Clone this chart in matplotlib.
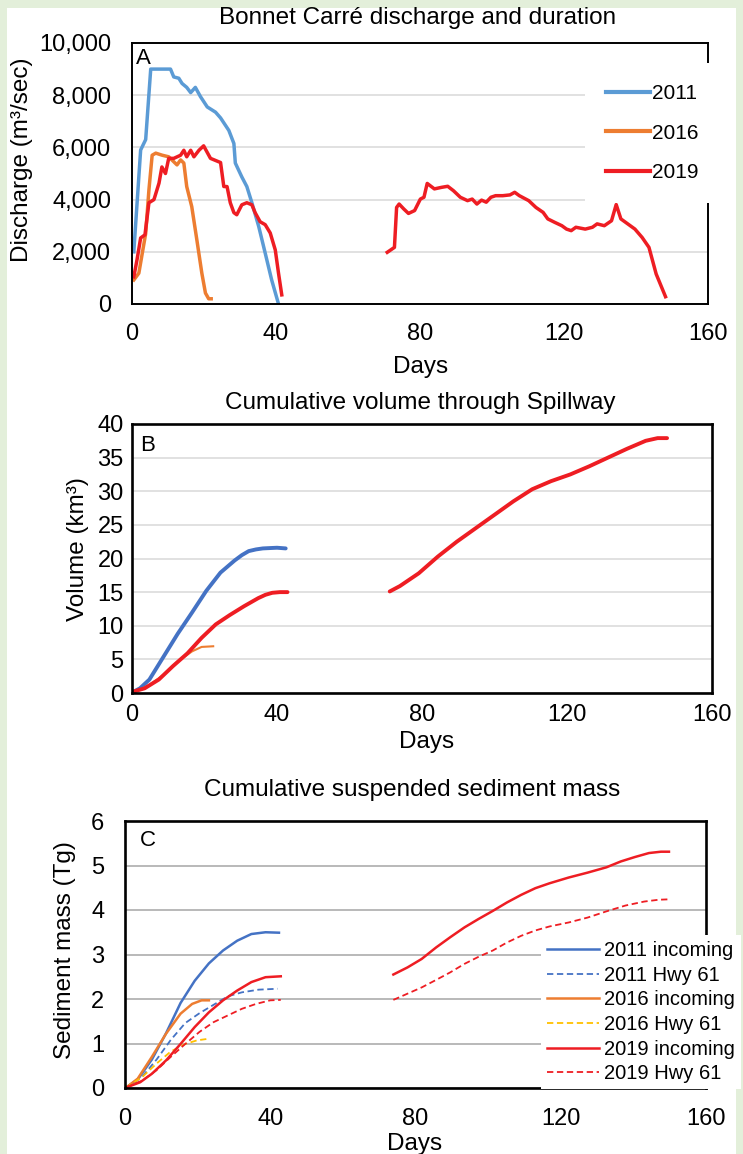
import numpy as np
import matplotlib.pyplot as plt
from matplotlib.patches import Rectangle

# ---- Panel A: discharge (m3/s) ----
a_days_2011 = [0.5, 2.4, 3.8, 5.2, 10.7, 11.6, 13, 13.9, 15.2, 16.3, 17.6, 19, 20.9, 23.2,
               24.6, 26.9, 28.3, 28.7, 30.5, 31.9, 33.3, 35.2, 37, 38.8, 40.7]
a_q_2011 = [2000, 5900, 6300, 9000, 9000, 8700, 8650, 8450, 8300, 8100, 8300, 7950, 7550, 7350,
            7130, 6650, 6150, 5400, 4870, 4500, 3880, 2970, 1950, 920, 0]

a_days_2016 = [0.5, 1.9, 3.8, 4.7, 5.6, 6.6, 8.4, 10.2, 11.6, 12.5, 13.5, 14.4, 15.2, 16.6,
               18, 19.4, 20.4, 21.3, 22]
a_q_2016 = [920, 1180, 2700, 4370, 5700, 5780, 5700, 5640, 5450, 5330, 5520, 5400, 4500, 3730,
            2470, 1180, 420, 200, 200]

a_days_2019_1 = [0.5, 1.4, 2.4, 3.6, 4.7, 6.1, 7.5, 8.3, 9.3, 10.2, 11.6, 13.5, 14.4, 15.2,
                 16.3, 17.2, 18.6, 19.9, 21.8, 23.2, 24.6, 25.5, 26.4, 27.3, 28.3, 29.1, 30.5,
                 31.9, 33.3, 34.2, 35.6, 37, 38.4, 39.8, 40.7, 41.6]
a_q_2019_1 = [1040, 1700, 2530, 2650, 3880, 4000, 4630, 5250, 5000, 5580, 5580, 5700, 5890, 5640,
              5890, 5640, 5890, 6060, 5580, 5500, 5420, 4500, 4500, 3880, 3500, 3420, 3800,
              3880, 3800, 3500, 3150, 3040, 2720, 2070, 1180, 350]

a_days_2019_2 = [70.9, 72.9, 73.5, 74.2, 75.5, 76.8, 78.5, 80.1, 81.1, 82, 84, 86, 87.7, 89.3,
                 91.2, 93.2, 94.5, 95.8, 97.1, 98.4, 99.7, 101, 103, 105, 106.3, 107.6, 110.2,
                 112.2, 114.2, 115.5, 117.4, 119.4, 120.7, 122, 123.3, 125.9, 127.9, 129.2,
                 131.2, 133.2, 134.5, 135.8, 137.7, 139.7, 141.7, 143.6, 145.6, 148.2]
a_q_2019_2 = [1980, 2170, 3700, 3830, 3640, 3470, 3580, 4020, 4090, 4620, 4410, 4470, 4510, 4340,
              4090, 3960, 4020, 3830, 3980, 3900, 4090, 4150, 4150, 4180, 4280, 4150, 3960,
              3700, 3510, 3260, 3130, 3000, 2870, 2810, 2940, 2870, 2940, 3070,
              3000, 3190, 3810, 3260, 3070, 2870, 2550, 2170, 1150, 280]

# ---- Panel B: cumulative volume (km3) ----
b_days_2011 = [0.3, 2.2, 4.8, 8.7, 12.6, 16.6, 20.5, 24.4, 28.3, 30.3, 32.2, 34.2, 36.1, 38,
               40, 42.4]
b_vol_2011 = [0.15, 0.7, 2.0, 5.4, 8.8, 12.0, 15.2, 17.9, 19.7, 20.5, 21.1, 21.35, 21.5, 21.55,
              21.6, 21.5]

b_days_2016 = [0, 2.2, 4.8, 8.7, 12.6, 16.6, 19.2, 22.4]
b_vol_2016 = [0, 0.5, 1.2, 2.7, 4.7, 6.2, 6.85, 6.95]

b_days_2019_1 = [0, 3.5, 7.4, 11.3, 15.3, 19.2, 23.1, 27, 30.9, 34.8, 36.8, 38.7, 40.8, 42.9]
b_vol_2019_1 = [0.15, 0.7, 2.0, 4.0, 5.9, 8.2, 10.2, 11.6, 12.9, 14.1, 14.6, 14.9, 15.0, 15.0]
b_days_2019_2 = [71.1, 73.9, 79.1, 84.4, 89.6, 94.8, 100, 105.2, 110.4, 115.6, 120.9, 126.1,
                 131.3, 136.5, 141.7, 145, 147.6]
b_vol_2019_2 = [15.1, 15.9, 17.8, 20.3, 22.5, 24.5, 26.5, 28.5, 30.3, 31.5, 32.5, 33.7,
                35.0, 36.3, 37.5, 37.9, 37.9]

# ---- Panel C: cumulative sediment mass (Tg) ----
c_days_2011_in = [0.3, 3.5, 7.4, 11.3, 15.3, 19.2, 23.1, 27, 30.9, 34.8, 38.7, 42.4]
c_mass_2011_in = [0.01, 0.19, 0.64, 1.23, 1.91, 2.41, 2.80, 3.09, 3.31, 3.46, 3.50, 3.49]
c_days_2011_hw = [0.3, 4.8, 8.7, 12.6, 16.6, 20.5, 24.4, 28.3, 32.2, 36.8, 42]
c_mass_2011_hw = [0.01, 0.26, 0.64, 1.08, 1.46, 1.68, 1.87, 2.06, 2.15, 2.21, 2.23]

c_days_2016_in = [0.3, 3.5, 7.4, 11.3, 15.3, 18.5, 21.1, 23.1]
c_mass_2016_in = [0.01, 0.21, 0.70, 1.22, 1.67, 1.89, 1.97, 1.97]
c_days_2016_hw = [0.3, 4.8, 8.7, 12.6, 16.6, 19.8, 22.4]
c_mass_2016_hw = [0.01, 0.25, 0.55, 0.82, 0.99, 1.07, 1.10]

c_days_2019_in_1 = [0.3, 4.2, 7.4, 11.3, 15.3, 19.2, 23.1, 27, 30.9, 34.8, 38.7, 42.9]
c_mass_2019_in_1 = [0.01, 0.13, 0.32, 0.62, 0.99, 1.37, 1.70, 1.97, 2.19, 2.38, 2.49, 2.51]
c_days_2019_in_2 = [73.9, 77.8, 81.7, 85.7, 89.6, 93.5, 97.4, 101.3, 105.2, 109.1, 113, 116.9,
                    122.2, 127.4, 132.6, 136.5, 140.4, 144.3, 147.6, 149.8]
c_mass_2019_in_2 = [2.55, 2.71, 2.90, 3.16, 3.39, 3.61, 3.80, 3.98, 4.17, 4.34, 4.49, 4.60,
                    4.73, 4.84, 4.96, 5.09, 5.19, 5.28, 5.31, 5.31]
c_days_2019_hw_1 = [0.3, 4.8, 8.7, 12.6, 16.6, 20.5, 24.4, 28.3, 32.2, 36.1, 40, 42.9]
c_mass_2019_hw_1 = [0.01, 0.17, 0.40, 0.70, 0.99, 1.26, 1.48, 1.63, 1.78, 1.89, 1.97, 1.98]
c_days_2019_hw_2 = [73.9, 77.8, 81.7, 85.7, 89.6, 93.5, 97.4, 101.3, 105.2, 109.1, 113, 116.9,
                    122.2, 127.4, 132.6, 137.8, 143, 146.9, 149.8]
c_mass_2019_hw_2 = [1.98, 2.12, 2.26, 2.43, 2.60, 2.79, 2.95, 3.09, 3.27, 3.42, 3.54, 3.63,
                    3.72, 3.83, 3.97, 4.10, 4.19, 4.23, 4.24]

x_ticks = [0, 40, 80, 120, 160]

# colours
light_blue = '#5b9bd5'
blue = '#4472c4'
orange = '#ed7d31'
yellow = '#ffc000'
red = '#ee1d23'

plt.rcParams['font.family'] = ['Liberation Sans', 'DejaVu Sans']
W, H = 743, 1154
fig = plt.figure(figsize=(W / 100, H / 100), dpi=100)
fig.patch.set_facecolor('#e3efda')
fig.patches.append(Rectangle((7 / W, 0), (736 - 7) / W, 1 - 8 / H, transform=fig.transFigure,
                             facecolor='white', edgecolor='none', zorder=-10))

FS = 17.5   # titles / axis labels
TS = 17     # tick labels


def box(l, t, r, b):
    return [l / W, 1 - b / H, (r - l) / W, (b - t) / H]


def ftext(x, y, s, **kw):
    fig.text(x / W, 1 - y / H, s, ha='center', va='center', **kw)


def style(ax, ymax, ystep, fmt, gridcol, spine_lw, xpad, ypad):
    ax.set_xlim(0, 160)
    ax.set_ylim(0, ymax)
    ax.set_xticks(x_ticks)
    ax.set_yticks(np.arange(0, ymax + ystep / 2, ystep))
    ax.set_yticklabels([fmt(v) for v in np.arange(0, ymax + ystep / 2, ystep)])
    ax.tick_params(axis='both', length=0, labelsize=TS)
    ax.tick_params(axis='x', pad=xpad)
    ax.tick_params(axis='y', pad=ypad)
    ax.yaxis.grid(True, color=gridcol, lw=1.1)
    ax.set_axisbelow(True)
    ax.patch.set_alpha(0)
    for sp in ax.spines.values():
        sp.set_linewidth(spine_lw)
        sp.set_color('black')


def white_legend(ax, x, y, **kw):
    leg = ax.legend(loc='upper left', bbox_to_anchor=(x / W, 1 - y / H),
                    bbox_transform=fig.transFigure, frameon=True, fancybox=False,
                    borderaxespad=0, **kw)
    leg.get_frame().set_edgecolor('none')
    leg.get_frame().set_facecolor('white')
    leg.get_frame().set_alpha(1)
    leg.set_zorder(5)
    return leg


# ---------- Panel A ----------
axA = fig.add_axes(box(132, 43, 708, 304))
style(axA, 10000, 2000, lambda v: f'{int(v):,}', '#d9d9d9', 1.4, 14, 15)
axA.plot(a_days_2011, a_q_2011, color=light_blue, lw=2.5, label='2011')
axA.plot(a_days_2016, a_q_2016, color=orange, lw=2.5, label='2016')
axA.plot(a_days_2019_1, a_q_2019_1, color=red, lw=2.5, label='2019')
axA.plot(a_days_2019_2, a_q_2019_2, color=red, lw=2.5)
legA = white_legend(axA, 585, 63, fontsize=15, handlelength=2.1, handletextpad=0.1,
                    labelspacing=1.0, borderpad=1.0)
for ln in legA.get_lines():
    ln.set_linewidth(3)
ftext(418, 18, 'Bonnet Carré discharge and duration', fontsize=FS)
ftext(22, 160, 'Discharge (m³/sec)', fontsize=FS, rotation=90)
ftext(421, 367, 'Days', fontsize=FS)
ftext(143, 59, 'A', fontsize=16)

# ---------- Panel B ----------
axB = fig.add_axes(box(132, 424, 712, 693))
style(axB, 40, 5, lambda v: f'{int(v)}', '#d9d9d9', 1.9, 8, 6)
axB.plot(b_days_2011, b_vol_2011, color=blue, lw=2.8, solid_capstyle='round')
axB.plot(b_days_2016, b_vol_2016, color=orange, lw=1.5)
axB.plot(b_days_2019_1, b_vol_2019_1, color=red, lw=2.8, solid_capstyle='round')
axB.plot(b_days_2019_2, b_vol_2019_2, color=red, lw=2.8, solid_capstyle='round')
ftext(420, 403, 'Cumulative volume through Spillway', fontsize=FS)
ftext(78, 549, 'Volume (km³)', fontsize=FS, rotation=90)
ftext(427, 742, 'Days', fontsize=FS)
ftext(148, 445, 'B', fontsize=16)

# ---------- Panel C ----------
axC = fig.add_axes(box(125, 821, 706, 1088))
style(axC, 6, 1, lambda v: f'{int(v)}', '#a6a6a6', 1.9, 14.5, 15)
dash = (0, (3.5, 2))
axC.plot(c_days_2011_in, c_mass_2011_in, color=blue, lw=1.8, label='2011 incoming')
axC.plot(c_days_2011_hw, c_mass_2011_hw, color=blue, lw=1.3, ls=dash, label='2011 Hwy 61')
axC.plot(c_days_2016_in, c_mass_2016_in, color=orange, lw=1.8, label='2016 incoming')
axC.plot(c_days_2016_hw, c_mass_2016_hw, color=yellow, lw=1.3, ls=dash, label='2016 Hwy 61')
axC.plot(c_days_2019_in_1, c_mass_2019_in_1, color=red, lw=1.8, label='2019 incoming')
axC.plot(c_days_2019_hw_1, c_mass_2019_hw_1, color=red, lw=1.3, ls=dash, label='2019 Hwy 61')
axC.plot(c_days_2019_in_2, c_mass_2019_in_2, color=red, lw=1.8)
axC.plot(c_days_2019_hw_2, c_mass_2019_hw_2, color=red, lw=1.3, ls=dash)
white_legend(axC, 541, 935, fontsize=14.5, handlelength=2.6, handletextpad=0.25,
             labelspacing=0.28, borderpad=0.3)
ftext(412, 790, 'Cumulative suspended sediment mass', fontsize=FS)
ftext(65, 950, 'Sediment mass (Tg)', fontsize=FS, rotation=90)
ftext(415, 1144, 'Days', fontsize=FS)
ftext(148, 840, 'C', fontsize=16)

fig.savefig('out.png', dpi=100, facecolor=fig.get_facecolor())
